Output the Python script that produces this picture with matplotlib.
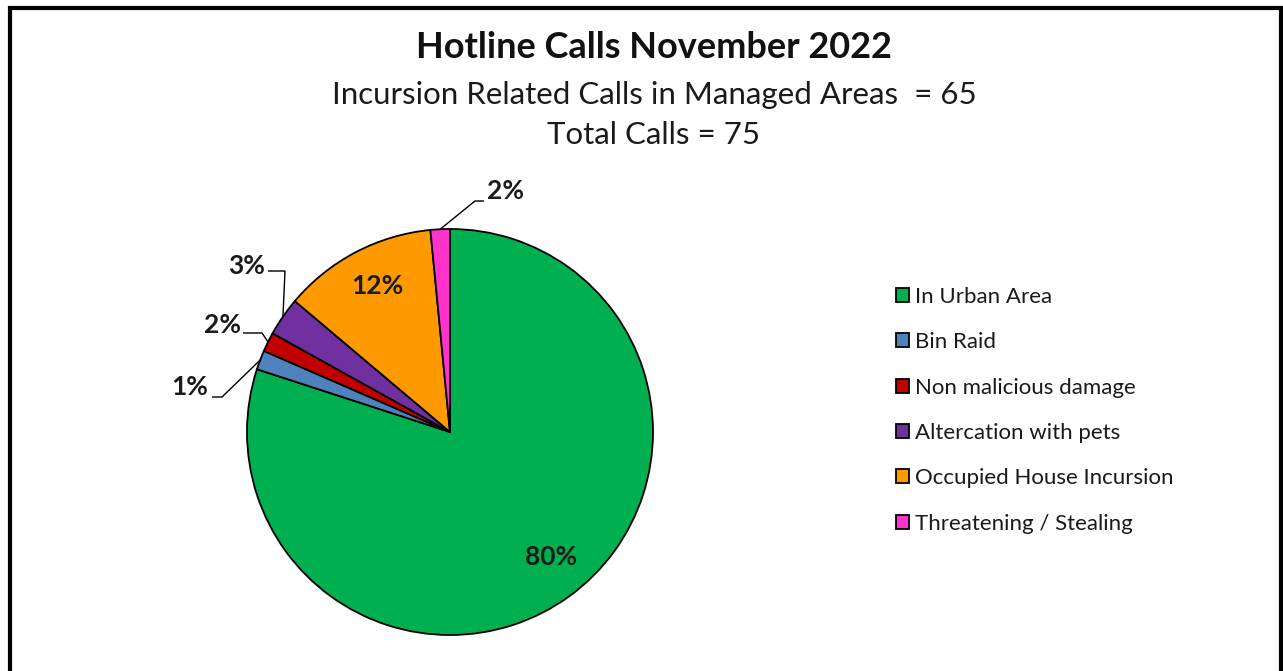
import matplotlib.pyplot as plt
import numpy as np
from matplotlib.patches import Rectangle, Patch

# data
categories = ["In Urban Area", "Bin Raid", "Non malicious damage",
              "Altercation with pets", "Occupied House Incursion",
              "Threatening / Stealing"]
calls = [52, 1, 1, 2, 8, 1]
pct_labels = ["80%", "1%", "2%", "3%", "12%", "2%"]
colors = ["#00B050", "#4F81BD", "#C00000", "#7030A0", "#FF9900", "#FF33CC"]

title = "Hotline Calls November 2022"
subtitle = "Incursion Related Calls in Managed Areas  = 65"
total_line = "Total Calls = 75"

W, H = 1283, 671
fig = plt.figure(figsize=(W / 100, H / 100), dpi=100)
plt.rcParams['font.family'] = ['Lato', 'DejaVu Sans']

# pie centre / radius in pixels
cx, cy, R = 450, 432, 203
ax = fig.add_axes([(cx - R) / W, (H - cy - R) / H, 2 * R / W, 2 * R / H])

wedges, _ = ax.pie(calls, colors=colors, startangle=90, counterclock=False,
                   radius=1, wedgeprops=dict(edgecolor='black', linewidth=1.3))
ax.set_xlim(-1, 1)
ax.set_ylim(-1, 1)
ax.axis('off')

def px(x, y):
    return (x - cx) / R, (cy - y) / R

# labels inside
inside = {0: (551, 557), 4: (377, 286)}
for i, (x, y) in inside.items():
    tx, ty = px(x, y)
    ax.text(tx, ty, pct_labels[i], ha='center', va='center',
            fontsize=19, fontweight='bold', color='#1a1a1a')

# outside labels with leader lines: (elbow, end, text centre) in px
outside = {
    5: ((475, 201), (484, 201), (506, 191)),
    3: ((285, 271), (268, 271), (247, 266)),
    2: ((262, 333), (243, 333), (222, 325)),
    1: ((222, 397), (212, 397), (190, 387)),
}
for i, (elb, end, txt) in outside.items():
    w = wedges[i]
    ang = np.deg2rad((w.theta1 + w.theta2) / 2)
    x0, y0 = np.cos(ang), np.sin(ang)
    ex, ey = px(*elb)
    nx, ny = px(*end)
    ax.plot([x0, ex, nx], [y0, ey, ny], color='black', lw=1.0,
            clip_on=False, solid_capstyle='butt')
    tx, ty = px(*txt)
    ax.text(tx, ty, pct_labels[i], ha='center', va='center',
            fontsize=19, fontweight='bold', color='#1a1a1a')

# titles
fig.text(654 / W, 1 - 47 / H, title, ha='center', va='center',
         fontsize=26, fontweight='bold', color='#111111')
fig.text(654 / W, 1 - 95 / H, subtitle, ha='center', va='center',
         fontsize=22.5, color='#1a1a1a')
fig.text(654 / W, 1 - 135 / H, total_line, ha='center', va='center',
         fontsize=22.5, color='#1a1a1a')

# legend
handles = [Patch(facecolor=c, edgecolor='black', linewidth=1.3) for c in colors]
fig.legend(handles, categories, loc='upper left',
           bbox_to_anchor=(887 / W, 1 - 278 / H), frameon=False,
           fontsize=16, handlelength=0.6, handleheight=0.6,
           handletextpad=0.25, labelspacing=1.14, borderaxespad=0,
           labelcolor='#1a1a1a')

# outer frame
fig.patches.append(Rectangle((10 / W, -0.05), (1281 - 10) / W, 1.05 - 8.5 / H,
                             transform=fig.transFigure, fill=False,
                             edgecolor='black', linewidth=3))

fig.savefig('out.png', dpi=100, facecolor='white')
